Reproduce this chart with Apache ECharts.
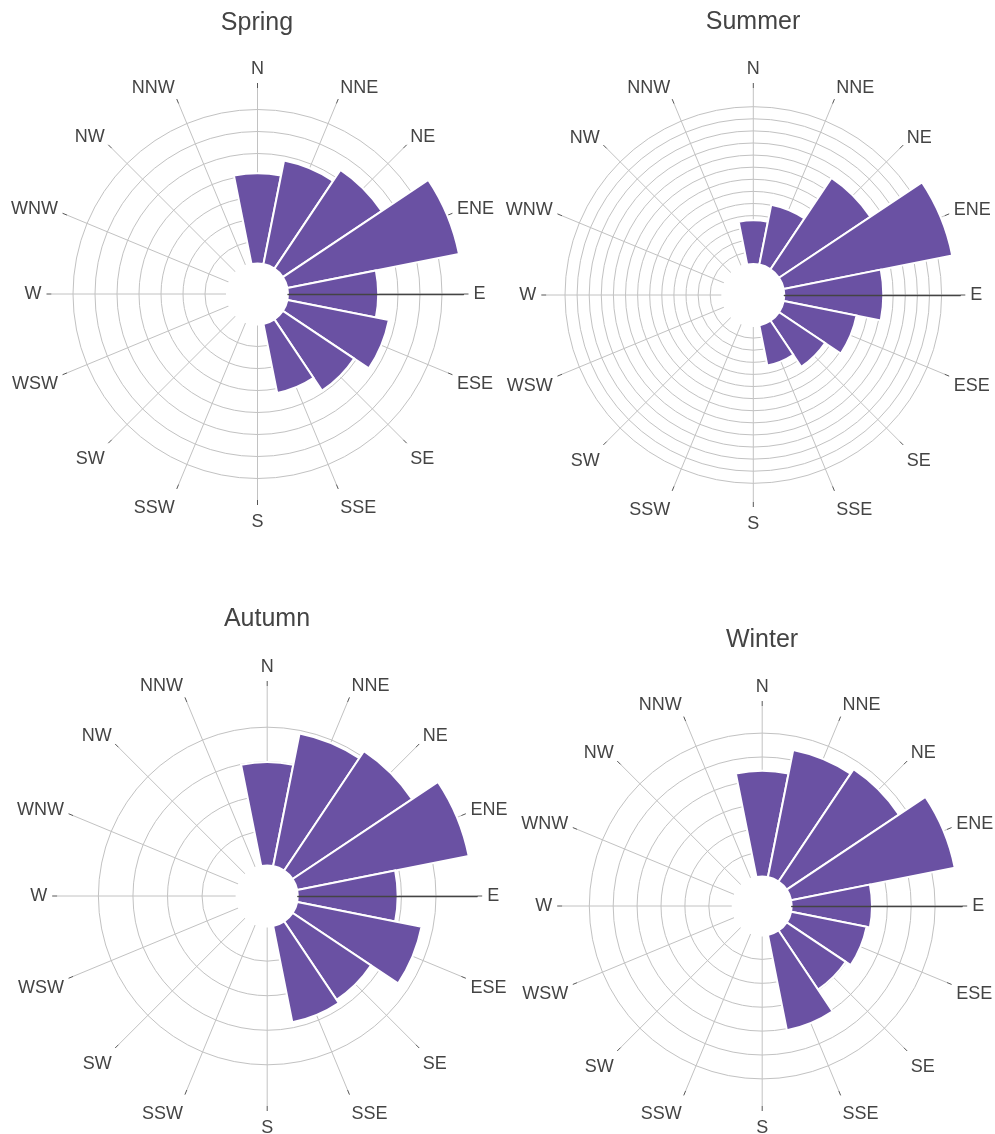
<!DOCTYPE html>
<html>
<head>
<meta charset="utf-8">
<script src="https://cdn.jsdelivr.net/npm/echarts@6/dist/echarts.min.js"></script>
<style>
html,body{margin:0;padding:0;background:#ffffff;}
#chart{width:995px;height:1134px;}
</style>
</head>
<body>
<div id="chart"></div>
<script>
// ---- data ----
const directions = ['N','NNE','NE','ENE','E','ESE','SE','SSE','S','SSW','SW','WSW','W','WNW','NW','NNW'];
const seasons = ['Spring','Summer','Autumn','Winter'];
const springValues = [4.1, 4.8, 5.4, 7.95, 4.1, 4.7, 3.9, 3.2, 0, 0, 0, 0, 0, 0, 0, 0];
const summerValues = [3.61, 5.04, 9.07, 14.2, 8.18, 6.14, 4.57, 3.38, 0, 0, 0, 0, 0, 0, 0, 0];
const autumnValues = [2.99, 3.91, 4.16, 5.06, 2.89, 3.67, 2.73, 2.84, 0, 0, 0, 0, 0, 0, 0, 0];
const winterValues = [4.42, 5.42, 5.65, 6.98, 3.36, 3.22, 2.97, 4.07, 0, 0, 0, 0, 0, 0, 0, 0];
const ringStep = 1;                 // value between two grid rings
const visibleRings = [7, 13, 4, 6]; // grid rings drawn in each rose

// ---- layout / style ----
const seriesValues = [springValues, summerValues, autumnValues, winterValues];
const layouts = [
  {center: [257.5, 294],  hole: 30.5, step: 22,    outer: 206, title: [257, 23]},
  {center: [753.3, 295],  hole: 31,   step: 12.1,  outer: 207, title: [753, 22]},
  {center: [267.2, 896],  hole: 30.6, step: 34.55, outer: 210, title: [267, 619]},
  {center: [762.2, 906],  hole: 29.5, step: 23.9,  outer: 200, title: [762, 640]}
];
const FONT = '"Liberation Sans", Arial, Helvetica, sans-serif';
const TEXT = '#444444';
const GRID = '#c2c2c2';
const BAR = '#6a51a3';
const LABEL_SIZE = 18;
// vertical nudge (px, downwards) of each direction label, N..NNW clockwise
const labelNudge = [0, 2.5, 5, 7, 0, -1.5, 3.5, 5.5, 3, 5.5, 3.5, -1.5, 0, 7, 5, 2.5];

function directionItems() {
  return directions.map((d, k) => {
    const ang = k * 360 / directions.length;            // clockwise from north
    const up = Math.cos(ang * Math.PI / 180);            // >0 upper half
    let lh = LABEL_SIZE;
    if (up > 0.3) lh = LABEL_SIZE - 2 * labelNudge[k];
    else if (up < -0.3) lh = LABEL_SIZE + 2 * labelNudge[k];
    return {value: d, textStyle: {lineHeight: lh, fontSize: LABEL_SIZE, color: TEXT, fontFamily: FONT}};
  });
}

const chart = echarts.init(document.getElementById('chart'), null, {renderer: 'canvas'});

const polar = [], angleAxis = [], radiusAxis = [], series = [], title = [];

seasons.forEach((name, i) => {
  const L = layouts[i];
  const vals = seriesValues[i];
  const axisMax = (L.outer - L.hole) / L.step * ringStep;
  const nNice = Math.floor(axisMax / ringStep + 1e-9);
  const tickCount = nNice + 1 + (Math.abs(nNice * ringStep - axisMax) > 1e-9 ? 1 : 0);
  const ringColors = [];
  for (let k = 0; k < tickCount; k++) {
    ringColors.push((k >= 1 && k <= visibleRings[i]) ? GRID : 'rgba(0,0,0,0)');
  }

  title.push({
    text: name,
    left: L.title[0],
    top: L.title[1],
    padding: 0,
    textAlign: 'center',
    textVerticalAlign: 'middle',
    textStyle: {color: TEXT, fontSize: 25, fontWeight: 'normal', fontFamily: FONT}
  });

  polar.push({center: L.center, radius: [L.hole, L.outer]});
  angleAxis.push({
    polarIndex: i,
    type: 'category',
    data: directionItems(),
    startAngle: 90 + 360 / directions.length / 2,
    clockwise: true,
    boundaryGap: true,
    axisLine: {show: false},
    axisTick: {show: true, alignWithLabel: true, inside: false, length: 5,
               lineStyle: {color: '#555555', width: 1}},
    axisLabel: {show: true, margin: 10, color: TEXT, fontSize: LABEL_SIZE, fontFamily: FONT},
    splitLine: {show: true, lineStyle: {color: GRID, width: 1}},
    z: 1
  });
  radiusAxis.push({
    polarIndex: i,
    type: 'value',
    min: 0,
    max: axisMax,
    interval: ringStep,
    axisLine: {show: false},
    axisTick: {show: false},
    axisLabel: {show: false},
    splitLine: {show: true, lineStyle: {color: ringColors, width: 1}},
    z: 1
  });
  series.push({
    type: 'bar',
    name: name,
    coordinateSystem: 'polar',
    polarIndex: i,
    data: vals,
    barCategoryGap: '0%',
    itemStyle: {color: BAR, borderColor: '#ffffff', borderWidth: 2},
    silent: true,
    z: 2
  });
});

// overlay polars: dark radial axis line pointing East
seasons.forEach((name, i) => {
  const L = layouts[i];
  const idx = seasons.length + i;
  polar.push({center: L.center, radius: [L.hole, L.outer]});
  angleAxis.push({polarIndex: idx, type: 'value', startAngle: 0, min: 0, max: 360, show: false});
  radiusAxis.push({
    polarIndex: idx, type: 'value', min: 0, max: 1,
    axisLine: {show: true, lineStyle: {color: '#444444', width: 1.3}},
    axisTick: {show: false}, axisLabel: {show: false}, splitLine: {show: false},
    z: 10
  });
});

chart.setOption({
  animation: false,
  backgroundColor: '#ffffff',
  title: title,
  polar: polar,
  angleAxis: angleAxis,
  radiusAxis: radiusAxis,
  series: series
});
</script>
</body>
</html>
